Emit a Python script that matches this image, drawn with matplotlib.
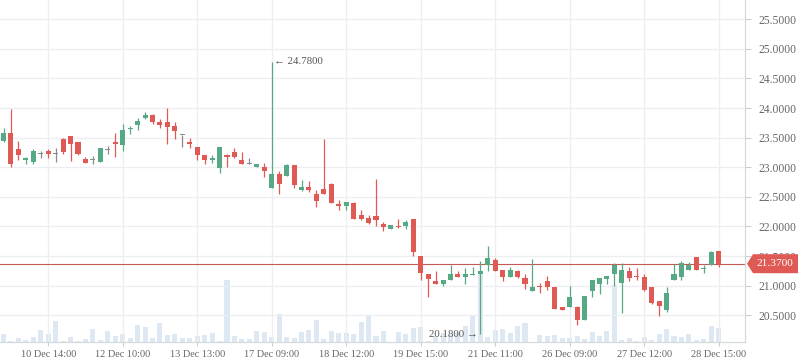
import matplotlib.pyplot as plt
from matplotlib.patches import Polygon
from matplotlib.transforms import IdentityTransform
import numpy as np

# OHLC per candle
opens = [23.45, 23.58, 23.30, 23.13, 23.09, 23.23, 23.28, 23.23, 23.48, 23.52,
         23.43, 23.14, 23.13, 23.09, 23.30, 23.43, 23.38, 23.65, 23.72, 23.83,
         23.88, 23.77, 23.77, 23.70, 23.55, 23.42, 23.35, 23.21, 23.13, 22.99,
         23.21, 23.25, 23.13, 23.06, 23.01, 23.01, 22.65, 22.89, 22.86, 23.04,
         22.62, 22.67, 22.55, 22.64, 22.72, 22.38, 22.35, 22.40, 22.20, 22.14,
         22.18, 22.04, 21.96, 22.01, 22.01, 22.13, 21.50, 21.20, 21.07, 21.03,
         21.10, 21.19, 21.15, 21.18, 21.20, 21.35, 21.44, 21.27, 21.15, 21.25,
         21.13, 20.91, 21.00, 21.07, 20.98, 20.64, 20.64, 20.64, 20.42, 20.91,
         21.03, 21.12, 21.19, 21.05, 21.25, 21.17, 21.15, 20.97, 20.74, 20.59,
         21.10, 21.15, 21.27, 21.49, 21.28, 21.35, 21.59]
highs = [23.67, 23.99, 23.45, 23.18, 23.30, 23.28, 23.30, 23.33, 23.50, 23.52,
         23.43, 23.18, 23.19, 23.33, 23.36, 23.58, 23.73, 23.70, 23.83, 23.94,
         23.90, 23.82, 24.00, 23.77, 23.55, 23.50, 23.35, 23.21, 23.21, 23.35,
         23.23, 23.33, 23.25, 23.16, 23.06, 23.08, 24.78, 22.94, 23.06, 23.04,
         22.79, 22.76, 22.62, 23.48, 22.74, 22.45, 22.42, 22.42, 22.28, 22.20,
         22.80, 22.08, 22.03, 22.13, 22.11, 22.13, 21.50, 21.20, 21.25, 21.10,
         21.34, 21.25, 21.30, 21.31, 21.42, 21.67, 21.47, 21.27, 21.32, 21.27,
         21.20, 21.45, 21.05, 21.17, 20.98, 20.64, 21.00, 20.66, 20.83, 21.10,
         21.13, 21.17, 21.38, 21.38, 21.32, 21.30, 21.20, 20.97, 20.74, 20.97,
         21.37, 21.42, 21.40, 21.49, 21.35, 21.59, 21.59]
lows = [23.43, 23.00, 23.13, 23.06, 23.05, 23.16, 23.16, 23.09, 23.23, 23.11,
        23.21, 23.08, 23.06, 23.09, 23.23, 23.18, 23.28, 23.57, 23.63, 23.82,
        23.73, 23.67, 23.40, 23.48, 23.35, 23.33, 23.13, 23.06, 23.08, 22.91,
        23.00, 23.16, 23.06, 23.06, 23.01, 22.84, 22.65, 22.55, 22.86, 22.65,
        22.60, 22.59, 22.33, 22.55, 22.40, 22.27, 22.28, 22.13, 22.11, 22.04,
        22.01, 21.92, 21.96, 21.98, 21.96, 21.50, 21.10, 20.80, 21.03, 21.00,
        21.10, 21.15, 21.03, 21.18, 20.18, 21.24, 21.25, 21.08, 21.15, 21.13,
        20.95, 20.91, 20.88, 20.93, 20.61, 20.59, 20.64, 20.34, 20.42, 20.81,
        20.86, 21.02, 21.00, 20.54, 21.08, 21.10, 20.91, 20.69, 20.49, 20.56,
        21.10, 21.10, 21.27, 21.27, 21.22, 21.35, 21.32]
closes = [23.58, 23.06, 23.21, 23.15, 23.28, 23.23, 23.23, 23.23, 23.25, 23.40,
          23.23, 23.08, 23.13, 23.33, 23.30, 23.40, 23.63, 23.67, 23.78, 23.88,
          23.77, 23.72, 23.68, 23.62, 23.55, 23.40, 23.21, 23.13, 23.16, 23.35,
          23.18, 23.18, 23.06, 23.06, 23.06, 22.93, 22.89, 22.72, 23.04, 22.70,
          22.67, 22.62, 22.43, 22.55, 22.40, 22.35, 22.42, 22.13, 22.13, 22.06,
          22.11, 21.99, 22.03, 21.99, 22.08, 21.57, 21.22, 21.12, 21.03, 21.10,
          21.20, 21.15, 21.19, 21.19, 21.24, 21.47, 21.25, 21.15, 21.27, 21.15,
          21.03, 20.97, 20.98, 20.97, 20.61, 20.59, 20.80, 20.42, 20.83, 21.10,
          21.13, 21.17, 21.35, 21.27, 21.13, 21.15, 20.93, 20.71, 20.66, 20.88,
          21.20, 21.39, 21.35, 21.27, 21.30, 21.57, 21.37]
volumes = [8, 1, 4, 2, 5, 12, 8, 21, 1, 5, 1, 3, 13, 2, 11, 6, 8, 4, 17, 15,
           4, 19, 7, 8, 4, 4, 6, 7, 9, 1, 62, 6, 3, 3, 11, 10, 5, 28, 5, 4,
           10, 12, 22, 3, 11, 9, 9, 8, 20, 27, 6, 11, 0.5, 10, 8, 14, 15, 1, 6, 9,
           7, 10, 16, 27, 70, 5, 12, 13, 9, 16, 19, 0.5, 7, 6, 7, 4, 4, 6, 3, 10,
           6, 11, 57, 2, 4, 1, 5, 2, 8, 13, 6, 5, 8, 2, 3, 16, 14]
tick_pos = [6, 16, 26, 36, 46, 56, 66, 76, 86, 96]
tick_labels = ["10 Dec 14:00", "12 Dec 10:00", "13 Dec 13:00", "17 Dec 09:00",
               "18 Dec 12:00", "19 Dec 15:00", "21 Dec 11:00", "26 Dec 09:00",
               "27 Dec 12:00", "28 Dec 15:00"]
price_ticks = [20.5, 21.0, 21.5, 22.0, 22.5, 23.0, 23.5, 24.0, 24.5, 25.0, 25.5]

UP, DOWN, FLAT = '#57a884', '#e05a55', '#8a8a8a'
VOLC = '#dde8f2'
GRID = '#eceef2'
TXT = '#666666'

plt.rcParams['font.family'] = ['Liberation Serif', 'DejaVu Serif']

o = np.array(opens); h = np.array(highs); l = np.array(lows); c = np.array(closes)
x = np.arange(len(o))
colors = [UP if cc > oo else DOWN if cc < oo else FLAT for oo, cc in zip(o, c)]

fig = plt.figure(figsize=(7.98, 3.63), dpi=100)
rect = [0, 21 / 363, 745 / 798, 342 / 363]
vax = fig.add_axes(rect)
ax = fig.add_axes(rect)
ax.patch.set_alpha(0)

xlim = (-0.47, 99.53)

# volume underneath
vax.bar(x, volumes, width=0.68, color=VOLC, linewidth=0)
vax.set_xlim(*xlim)
vax.set_ylim(0, 342)
vax.axis('off')

# candles
ax.vlines(x, l, h, colors=colors, lw=0.9, zorder=3)
body_lo = np.minimum(o, c)
body_h = np.maximum(np.abs(c - o), 0.018)
ax.bar(x, body_h, bottom=np.where(np.abs(c - o) < 0.018, body_lo - 0.009, body_lo),
       width=0.68, color=colors, linewidth=0, zorder=4)

ax.set_xlim(*xlim)
ax.set_ylim(20.047, 25.826)
ax.set_xticks(tick_pos, tick_labels)
ax.set_yticks(price_ticks, [f'{p:.4f}' for p in price_ticks])
ax.yaxis.tick_right()
ax.grid(True, color=GRID, lw=0.9)
ax.set_axisbelow(True)
for s in ['top', 'left']:
    ax.spines[s].set_visible(False)
for s in ['right', 'bottom']:
    ax.spines[s].set_color('#d5d9de')
    ax.spines[s].set_linewidth(0.9)
ax.tick_params(axis='y', length=4, color='#cccccc', labelsize=8.4, labelcolor=TXT, pad=6)
ax.tick_params(axis='x', length=3, color='#cccccc', labelsize=7.4, labelcolor=TXT, pad=3)

# last price line and label
last = c[-1]
ax.axhline(last, color='#c45a55', lw=0.8, zorder=2)
fig.canvas.draw()
yd = ax.transData.transform((0, last))[1]
xd = ax.transAxes.transform((1, 0))[0]
tag = Polygon([(xd + 2, yd), (xd + 8, yd + 9.5), (798, yd + 9.5), (798, yd - 9.5),
               (xd + 8, yd - 9.5)], closed=True, transform=IdentityTransform(),
              facecolor='#e05a55', edgecolor='none', clip_on=False, zorder=8)
ax.add_artist(tag)
ax.annotate(f'{last:.4f}', xy=(1, last), xycoords=('axes fraction', 'data'),
            xytext=(8, 0), textcoords='offset points', ha='left', va='center',
            color='white', fontsize=8.2, annotation_clip=False, zorder=9)

# high / low markers
hi_i = int(np.argmax(h)); lo_i = int(np.argmin(l))
ax.annotate(f'\u2190 {h[hi_i]:.4f}', xy=(hi_i, h[hi_i]), xytext=(1.5, 0),
            textcoords='offset points', ha='left', va='center', color='#555555', fontsize=7.8)
ax.annotate(f'{l[lo_i]:.4f} \u2192', xy=(lo_i, l[lo_i]), xytext=(-2, 0),
            textcoords='offset points', ha='right', va='center', color='#555555', fontsize=7.8)

fig.savefig('out.png', dpi=100, facecolor='white')
